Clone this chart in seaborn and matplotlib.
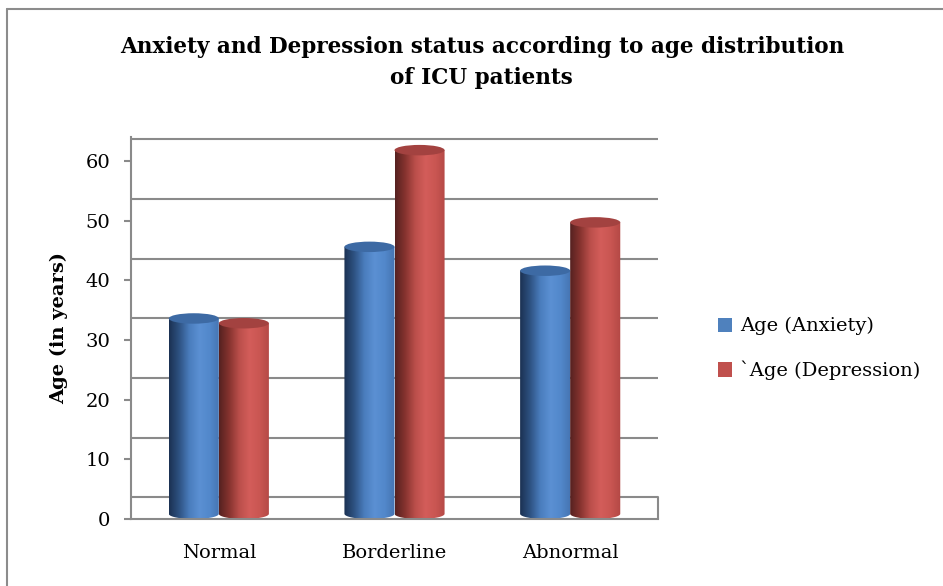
import numpy as np
import pandas as pd
import matplotlib
matplotlib.use("Agg")
import matplotlib.pyplot as plt
import seaborn as sns
from matplotlib.path import Path
from matplotlib.patches import Ellipse, PathPatch, Patch
from matplotlib.colors import LinearSegmentedColormap
from matplotlib.lines import Line2D

# ---- data -------------------------------------------------------------
categories = ["Normal", "Borderline", "Abnormal"]
series = ["Age (Anxiety)", "`Age (Depression)"]
age_anxiety = [33.6, 45.6, 41.6]
age_depression = [32.8, 61.8, 49.7]
yticks = [0, 10, 20, 30, 40, 50, 60]

df = pd.DataFrame({
    "category": categories * 2,
    "series": [series[0]] * len(categories) + [series[1]] * len(categories),
    "age": age_anxiety + age_depression,
})

# ---- style ------------------------------------------------------------
sns.set_theme(style="white")
plt.rcParams["font.family"] = ["DejaVu Serif"]
plt.rcParams["text.color"] = "black"
plt.rcParams["axes.labelcolor"] = "black"

base_colors = ["#4f81bd", "#c0504d"]
cap_colors = ["#3d6aa4", "#a34240"]
shade_stops = [
    ["#1b3152", "#2e5282", "#4a7dbd", "#5b90d3", "#5288cb", "#4574b1"],
    ["#552120", "#86332f", "#bb4f4b", "#d35d5a", "#c95652", "#b34845"],
]
grid_color = "#8a8a8a"
depth = 3.63      # height of the floor depth in data units
cap_h = 1.75      # vertical size of the elliptical caps in data units

fig = plt.figure(figsize=(9.43, 5.86), dpi=100)
ax = fig.add_axes([0.1389, 0.1143, 0.5589, 0.6519])

sns.barplot(data=df, x="category", y="age", hue="series",
            order=categories, hue_order=series, palette=base_colors,
            width=0.57, gap=0, errorbar=None, legend=False, ax=ax)

# ---- cylinder rendering of each bar ------------------------------------
grad = np.linspace(0, 1, 256).reshape(1, -1)
for i, container in enumerate(ax.containers):
    cmap = LinearSegmentedColormap.from_list(f"cyl{i}", shade_stops[i])
    for bar in container:
        x0 = bar.get_x()
        w = bar.get_width()
        top = bar.get_height()
        bar.set_visible(False)
        # outline: straight sides with a rounded bottom
        t = np.linspace(np.pi, 2 * np.pi, 40)
        bx = x0 + w / 2 + (w / 2) * np.cos(t)
        by = cap_h / 2 + (cap_h / 2) * np.sin(t)
        verts = [(x0, top)] + list(zip(bx, by)) + [(x0 + w, top), (x0, top)]
        codes = [Path.MOVETO] + [Path.LINETO] * (len(verts) - 2) + [Path.CLOSEPOLY]
        body = PathPatch(Path(verts, codes), facecolor="none",
                         edgecolor="none", transform=ax.transData)
        ax.add_patch(body)
        im = ax.imshow(grad, cmap=cmap, aspect="auto",
                       extent=[x0, x0 + w, 0, top], zorder=2)
        im.set_clip_path(body)
        ax.add_patch(Ellipse((x0 + w / 2, top), w, cap_h,
                             facecolor=cap_colors[i], edgecolor="none",
                             zorder=3))

# ---- back wall and floor ----------------------------------------------
for v in yticks:
    ax.axhline(v + depth, color=grid_color, lw=1.5, zorder=0)
ax.plot([1, 1], [0, depth], color=grid_color, lw=1.5,
        transform=ax.get_yaxis_transform(), clip_on=False, zorder=0)

ax.set_xlim(-0.5, len(categories) - 0.5)
ax.set_ylim(0, 64)
ax.set_yticks(yticks)
ax.set_xlabel("")
ax.set_ylabel("Age (in years)", fontsize=14, fontweight="bold", labelpad=12)

for side in ["top", "right"]:
    ax.spines[side].set_visible(False)
for side in ["left", "bottom"]:
    ax.spines[side].set_color(grid_color)
    ax.spines[side].set_linewidth(1.5)

ax.tick_params(axis="y", which="major", left=True, length=5, width=1.5,
               color=grid_color, labelsize=14, pad=10, labelcolor="black")
ax.tick_params(axis="x", bottom=False, labelsize=14, pad=12,
               labelcolor="black")

# ---- title, legend, outer frame ---------------------------------------
fig.text(0.511, 0.893,
         "Anxiety and Depression status according to age distribution\nof ICU patients",
         ha="center", va="center", fontsize=15.5, fontweight="bold",
         color="black", linespacing=1.5)

handles = [Patch(facecolor=c, edgecolor="none") for c in base_colors]
fig.legend(handles, series, loc="center left",
           bbox_to_anchor=(0.753, 0.405), frameon=False, fontsize=14,
           handlelength=0.75, handleheight=0.75, handletextpad=0.4,
           labelspacing=1.3, borderaxespad=0, labelcolor="black")

fig.add_artist(Line2D([0.0074, 0.0074], [0.0, 0.985], color="#8c8c8c",
                      lw=1.5, transform=fig.transFigure))
fig.add_artist(Line2D([0.0074, 1.0], [0.985, 0.985], color="#8c8c8c",
                      lw=1.5, transform=fig.transFigure))

fig.savefig("out.png", dpi=100, facecolor="white")
